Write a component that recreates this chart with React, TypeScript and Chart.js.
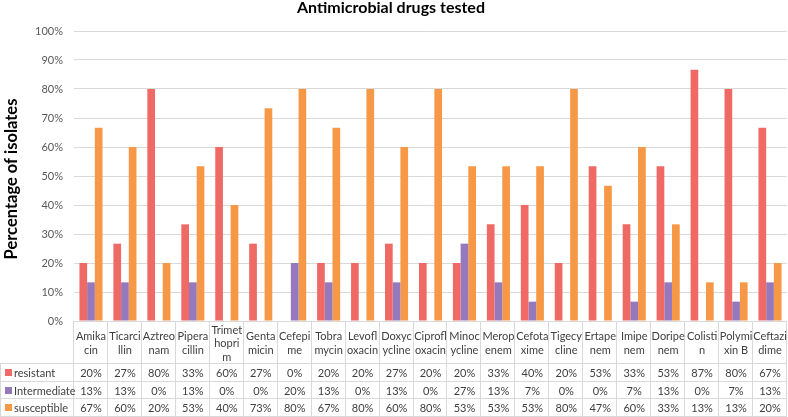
import React, { useEffect, useRef } from "react";
import { Chart, registerables } from "chart.js";

Chart.register(...registerables);

const categoryLines: string[][] = [
  ["Amika", "cin"], ["Ticarci", "llin"], ["Aztreo", "nam"], ["Pipera", "cillin"],
  ["Trimet", "hopri", "m"], ["Genta", "micin"], ["Cefepi", "me"], ["Tobra", "mycin"],
  ["Levofl", "oxacin"], ["Doxyc", "ycline"], ["Ciprofl", "oxacin"], ["Minoc", "ycline"],
  ["Merop", "enem"], ["Cefota", "xime"], ["Tigecy", "cline"], ["Ertape", "nem"],
  ["Imipe", "nem"], ["Doripe", "nem"], ["Colisti", "n"], ["Polymi", "xin B"], ["Ceftazi", "dime"],
];
const categories = categoryLines.map((l) => l.join(""));

const resistant = [20, 26.67, 80, 33.33, 60, 26.67, 0, 20, 20, 26.67, 20, 20, 33.33, 40, 20, 53.33, 33.33, 53.33, 86.67, 80, 66.67];
const intermediate = [13.33, 13.33, 0, 13.33, 0, 0, 20, 13.33, 0, 13.33, 0, 26.67, 13.33, 6.67, 0, 0, 6.67, 13.33, 0, 6.67, 13.33];
const susceptible = [66.67, 60, 20, 53.33, 40, 73.33, 80, 66.67, 80, 60, 80, 53.33, 53.33, 53.33, 80, 46.67, 60, 33.33, 13.33, 13.33, 20];

const seriesNames = ["resistant", "Intermediate", "susceptible"];
const seriesColors = ["#EF6A64", "#9679BC", "#F79847"];
const yTicks = [0, 10, 20, 30, 40, 50, 60, 70, 80, 90, 100];

const titleText = "Antimicrobial drugs tested";
const yTitleText = "Percentage of isolates";

const FONT = "Lato, 'Liberation Sans', sans-serif";

const tablePlugin = {
  id: "dataTable",
  afterDraw(chart: any) {
    const ctx = chart.ctx as CanvasRenderingContext2D;
    const area = chart.chartArea;
    const xs = chart.scales.x;
    const n = categories.length;
    const colW = (area.right - area.left) / n;
    const top = area.bottom;
    const headerBottom = 364;
    const bottom = 416.5;
    const rowH = (bottom - headerBottom) / 3;
    ctx.save();
    // chart title
    ctx.fillStyle = "#000000";
    ctx.font = `bold 16px ${FONT}`;
    ctx.textAlign = "center";
    ctx.textBaseline = "middle";
    ctx.fillText(titleText, 391, 8);

    // axis title
    ctx.save();
    ctx.translate(12, 179);
    ctx.rotate(-Math.PI / 2);
    ctx.font = `bold 16.5px ${FONT}`;
    ctx.fillText(yTitleText, 0, 0);
    ctx.restore();

    ctx.strokeStyle = "#D9D9D9";
    ctx.lineWidth = 1;
    ctx.beginPath();
    for (let i = 0; i <= n; i++) {
      const x = Math.round(area.left + i * colW) - 0.5;
      ctx.moveTo(x, top);
      ctx.lineTo(x, bottom);
    }
    ctx.moveTo(0.5, headerBottom);
    ctx.lineTo(0.5, bottom);
    for (let r = 0; r <= 3; r++) {
      const y = Math.round(headerBottom + r * rowH) - 0.5;
      ctx.moveTo(0, y);
      ctx.lineTo(area.right, y);
    }
    ctx.stroke();

    ctx.fillStyle = "#404040";
    ctx.font = `11px ${FONT}`;
    ctx.textAlign = "center";
    ctx.textBaseline = "middle";
    const lh = 13.5;
    const hc = (top + headerBottom) / 2;
    categoryLines.forEach((lines, i) => {
      const cx = xs.getPixelForValue(i);
      const start = hc - ((lines.length - 1) * lh) / 2;
      lines.forEach((t, k) => ctx.fillText(t, cx, start + k * lh + 1));
    });
    const series = [resistant, intermediate, susceptible];
    series.forEach((vals, r) => {
      const cy = headerBottom + r * rowH + rowH / 2;
      ctx.textAlign = "center";
      ctx.fillStyle = "#404040";
      vals.forEach((v, i) => {
        ctx.fillText(Math.round(v) + "%", xs.getPixelForValue(i), cy + 1);
      });
      ctx.fillStyle = seriesColors[r];
      ctx.fillRect(5, Math.round(cy - 3.5), 7, 7);
      ctx.fillStyle = "#404040";
      ctx.textAlign = "left";
      ctx.fillText(seriesNames[r], 14, cy + 1);
    });
    ctx.restore();
  },
};

export default function App() {
  const ref = useRef<HTMLCanvasElement | null>(null);
  useEffect(() => {
    document.body.style.margin = "0";
    if (!ref.current) return;
    const chart = new Chart(ref.current, {
      type: "bar",
      data: {
        labels: categories,
        datasets: [resistant, intermediate, susceptible].map((d, i) => ({
          label: seriesNames[i],
          data: d,
          backgroundColor: seriesColors[i],
          borderWidth: 0,
          categoryPercentage: 0.68,
          barPercentage: 1,
        })),
      },
      options: {
        animation: false,
        responsive: false,
        layout: { padding: { top: 31, right: 1, left: 0, bottom: 0 } },
        plugins: { legend: { display: false }, title: { display: false }, tooltip: { enabled: false } },
        scales: {
          x: {
            grid: { display: false },
            border: { display: false },
            ticks: { display: false },
            afterFit: (s: any) => { s.height = 96; },
          },
          y: {
            min: 0,
            max: 100,
            afterBuildTicks: (s: any) => { s.ticks = yTicks.map((v) => ({ value: v })); },
            grid: { color: "#D9D9D9", drawTicks: false },
            border: { display: false },
            ticks: {
              padding: 11,
              color: "#595959",
              font: { family: FONT, size: 11 },
              callback: (v: any) => v + "%",
            },
            title: { display: false },
            afterFit: (s: any) => { s.width = 74; },
          },
        },
      },
      plugins: [tablePlugin],
    });
    return () => chart.destroy();
  }, []);
  return (
    <div style={{ width: 788, height: 417 }}>
      <canvas ref={ref} width={788} height={417} style={{ display: "block" }} />
    </div>
  );
}
